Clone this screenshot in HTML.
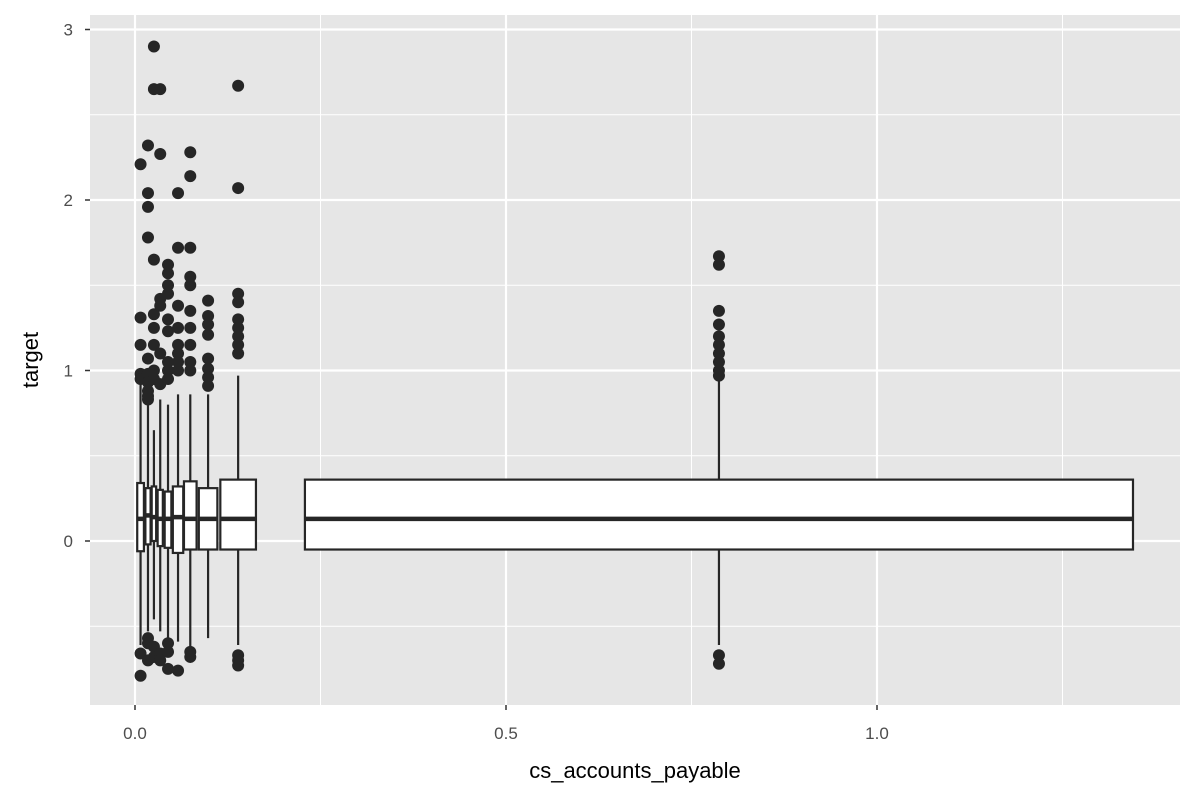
<!DOCTYPE html>
<html><head><meta charset="utf-8"><style>
body{margin:0;background:#fff}
svg text{font-family:"Liberation Sans",sans-serif}
</style></head><body>
<svg id="chart" width="1200" height="800" xmlns="http://www.w3.org/2000/svg"></svg>
<script>
const groupX = [0.0075,0.0175,0.0255,0.034,0.0445,0.058,0.0745,0.0985,0.139,0.787];
const groupHalfW = [0.0045,0.0035,0.003,0.0035,0.0045,0.007,0.0085,0.0125,0.024,0.558];
const q1 = [-0.06,-0.02,0.0,-0.03,-0.04,-0.07,-0.05,-0.05,-0.05,-0.05];
const med = [0.13,0.15,0.14,0.13,0.13,0.14,0.13,0.13,0.13,0.13];
const q3 = [0.34,0.31,0.32,0.30,0.29,0.32,0.35,0.31,0.36,0.36];
const whiskLo = [-0.61,-0.53,-0.46,-0.53,-0.58,-0.59,-0.64,-0.57,-0.61,-0.61];
const whiskHi = [0.94,0.83,0.65,0.83,0.80,0.86,0.86,0.86,0.97,0.97];
const outliers = [
 [2.21,1.31,1.15,0.98,0.95,-0.66,-0.79],
 [2.32,2.04,1.96,1.78,1.07,0.98,0.93,0.88,0.85,0.83,-0.57,-0.60,-0.70],
 [2.90,2.65,1.65,1.33,1.25,1.15,1.0,0.95,-0.62,-0.68],
 [2.65,2.27,1.42,1.38,1.10,0.92,-0.66,-0.70],
 [1.62,1.57,1.50,1.45,1.30,1.23,1.05,1.0,0.95,-0.60,-0.65,-0.75],
 [2.04,1.72,1.38,1.25,1.15,1.10,1.05,1.0,-0.76],
 [2.28,2.14,1.72,1.55,1.50,1.35,1.25,1.15,1.05,1.0,-0.65,-0.68],
 [1.41,1.32,1.27,1.21,1.07,1.01,0.96,0.91],
 [2.67,2.07,1.45,1.40,1.30,1.25,1.20,1.15,1.10,-0.67,-0.70,-0.73],
 [1.67,1.62,1.35,1.27,1.20,1.15,1.10,1.05,1.0,0.97,-0.67,-0.72]
];
const xTicks = [0,0.5,1.0];
const xTickLabels = ["0.0","0.5","1.0"];
const xMinor = [0.25,0.75,1.25];
const yTicks = [0,1,2,3];
const yTickLabels = ["0","1","2","3"];
const yMinor = [-0.5,0.5,1.5,2.5];

const svg = document.getElementById('chart');
const NS = 'http://www.w3.org/2000/svg';
const L=90,R=1180,T=15,B=705;
const sx = v => 135 + v*742;
const sy = v => 541 - v*170.5;
function mk(tag, attrs){const e=document.createElementNS(NS,tag);for(const k in attrs)e.setAttribute(k,attrs[k]);svg.appendChild(e);return e;}

let bg = mk('rect',{x:L,y:T,width:R-L,height:B-T,fill:'#e6e6e6'});


xMinor.forEach(v=>{const g=mk('line',{x1:sx(v),x2:sx(v),y1:T,y2:B,stroke:'#fff','stroke-width':1});

});
yMinor.forEach(v=>{const g=mk('line',{x1:L,x2:R,y1:sy(v),y2:sy(v),stroke:'#fff','stroke-width':1});

});
xTicks.forEach((v,i)=>{const g=mk('line',{x1:sx(v),x2:sx(v),y1:T,y2:B,stroke:'#fff','stroke-width':2.2});


const tk=mk('line',{x1:sx(v),x2:sx(v),y1:B,y2:B+5,stroke:'#333','stroke-width':1.5});


const t=mk('text',{x:sx(v),y:B+34,'text-anchor':'middle','font-size':17,fill:'#4d4d4d'});t.textContent=xTickLabels[i];

});
yTicks.forEach((v,i)=>{const g=mk('line',{x1:L,x2:R,y1:sy(v),y2:sy(v),stroke:'#fff','stroke-width':2.2});


const tk=mk('line',{x1:L-5,x2:L,y1:sy(v),y2:sy(v),stroke:'#333','stroke-width':1.5});


const t=mk('text',{x:L-17,y:sy(v)+6,'text-anchor':'end','font-size':17,fill:'#4d4d4d'});t.textContent=yTickLabels[i];

});

groupX.forEach((gx,i)=>{
 const cx=sx(gx), hw=groupHalfW[i]*742;
 const w1=mk('line',{x1:cx,x2:cx,y1:sy(q3[i]),y2:sy(whiskHi[i]),stroke:'#262626','stroke-width':2.2});
 
 
 const w2=mk('line',{x1:cx,x2:cx,y1:sy(q1[i]),y2:sy(whiskLo[i]),stroke:'#262626','stroke-width':2.2});
 
 
 const b=mk('rect',{x:cx-hw,y:sy(q3[i]),width:2*hw,height:sy(q1[i])-sy(q3[i]),fill:'#fff',stroke:'#262626','stroke-width':2.2});
 
 
 const m=mk('line',{x1:cx-hw,x2:cx+hw,y1:sy(med[i]),y2:sy(med[i]),stroke:'#262626','stroke-width':4.5});
 
 
 outliers[i].forEach(v=>{const c=mk('circle',{cx:cx,cy:sy(v),r:6,fill:'#262626'});
 
 });
});

const xt=mk('text',{x:(L+R)/2,y:778,'text-anchor':'middle','font-size':22,fill:'#000'});xt.textContent='cs_accounts_payable';


const yt=mk('text',{x:38,y:(T+B)/2,'text-anchor':'middle','font-size':22,fill:'#000',transform:'rotate(-90 38 '+((T+B)/2)+')'});yt.textContent='target';


</script>
</body></html>
